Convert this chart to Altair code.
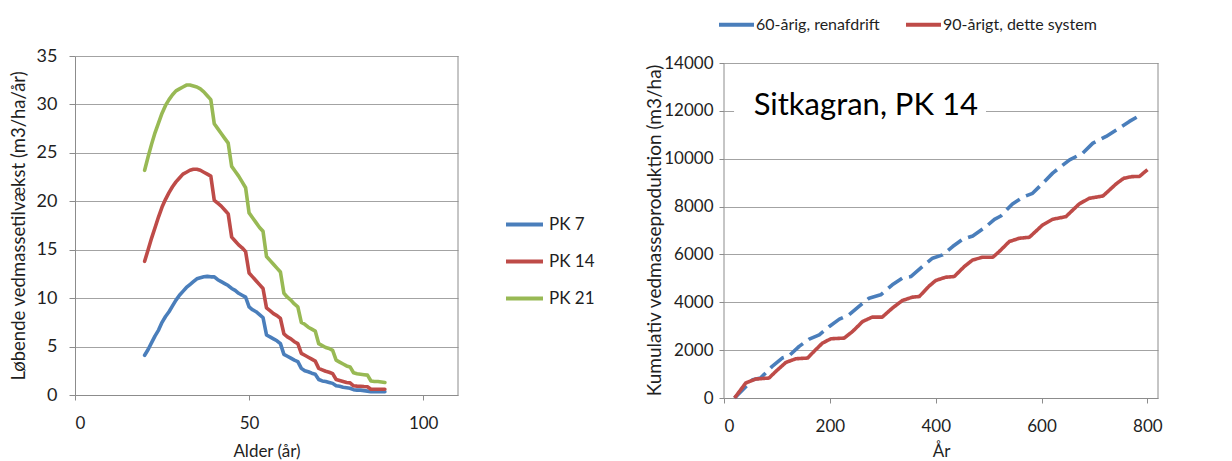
import altair as alt
import pandas as pd

# ---------------------------------------------------------------
# Venstre panel: løbende vedmassetilvækst efter alder (PK 7/14/21)
# ---------------------------------------------------------------
alder = list(range(20, 90))

pk7 = [4.1, 4.7, 5.4, 6.1, 6.7, 7.5, 8.1, 8.6, 9.2, 9.8,
       10.3, 10.7, 11.1, 11.4, 11.7, 12.0, 12.1, 12.2, 12.25, 12.2,
       12.2, 11.9, 11.7, 11.5, 11.3, 11.0, 10.8, 10.5, 10.3, 10.1,
       9.1, 8.8, 8.6, 8.3, 8.0, 6.2, 6.0, 5.8, 5.6, 5.3,
       4.2, 4.0, 3.8, 3.6, 3.45, 2.75, 2.5, 2.4, 2.25, 2.15,
       1.6, 1.45, 1.4, 1.3, 1.2, 0.95, 0.9, 0.8, 0.75, 0.7,
       0.55, 0.5, 0.5, 0.45, 0.4, 0.33, 0.33, 0.33, 0.33, 0.33]

pk14 = [13.8, 15.0, 16.2, 17.3, 18.4, 19.4, 20.2, 20.9, 21.5, 22.0,
        22.4, 22.8, 23.0, 23.2, 23.3, 23.3, 23.2, 23.0, 22.8, 22.6,
        20.1, 19.8, 19.5, 19.1, 18.7, 16.3, 15.9, 15.5, 15.2, 14.8,
        12.6, 12.2, 11.8, 11.4, 11.0, 9.0, 8.7, 8.4, 8.2, 7.9,
        6.3, 6.0, 5.8, 5.5, 5.3, 4.3, 4.1, 3.9, 3.7, 3.5,
        2.75, 2.6, 2.45, 2.35, 2.2, 1.6, 1.5, 1.4, 1.3, 1.25,
        0.95, 0.92, 0.9, 0.87, 0.85, 0.6, 0.6, 0.6, 0.6, 0.6]

pk21 = [23.2, 24.6, 25.9, 27.1, 28.1, 29.1, 29.9, 30.5, 31.0, 31.4,
        31.6, 31.8, 32.0, 32.0, 31.9, 31.8, 31.6, 31.3, 30.9, 30.5,
        28.0, 27.5, 27.0, 26.5, 26.0, 23.6, 23.1, 22.6, 22.0, 21.4,
        18.8, 18.3, 17.8, 17.3, 16.9, 14.3, 13.9, 13.5, 13.1, 12.7,
        10.5, 10.1, 9.8, 9.4, 9.1, 7.5, 7.3, 7.0, 6.8, 6.6,
        5.3, 5.1, 4.9, 4.8, 4.6, 3.6, 3.4, 3.2, 3.0, 2.9,
        2.3, 2.2, 2.15, 2.1, 2.05, 1.45, 1.4, 1.4, 1.35, 1.3]

bonitet_navne = ["PK 7", "PK 14", "PK 21"]
bonitet_farver = ["#4A7EBB", "#BE4B48", "#98B954"]

# ---------------------------------------------------------------
# Højre panel: kumulativ vedmasseproduktion, Sitkagran PK 14
# ---------------------------------------------------------------
aar_60 = [20, 54, 69, 91, 110, 123, 142, 161, 180, 199, 218, 236, 255, 274,
          296, 318, 337, 353, 375, 394, 413, 432, 451, 470, 495, 511, 523,
          545, 564, 583, 602, 621, 653, 678, 697, 722, 747, 766, 788]
prod_60 = [0, 765, 834, 1321, 1669, 1766, 2156, 2462, 2642, 2990, 3296, 3477,
           3825, 4172, 4311, 4729, 5007, 5076, 5494, 5841, 5980, 6328, 6634,
           6773, 7162, 7468, 7607, 8108, 8386, 8553, 8970, 9398, 9955, 10234,
           10652, 10932, 11280, 11559, 11838]

aar_90 = [20, 41, 60, 85, 98, 117, 136, 158, 170, 186, 202, 227, 243, 262,
          280, 299, 318, 337, 356, 369, 388, 400, 419, 435, 454, 470, 489,
          508, 520, 539, 558, 577, 602, 621, 646, 671, 690, 716, 741, 755,
          770, 785, 800]
prod_90 = [0, 626, 793, 834, 1113, 1488, 1641, 1669, 1947, 2295, 2476, 2503,
           2781, 3199, 3380, 3380, 3755, 4075, 4214, 4242, 4687, 4910, 5049,
           5076, 5494, 5772, 5883, 5883, 6119, 6537, 6676, 6718, 7232, 7468,
           7580, 8108, 8345, 8442, 8950, 9180, 9250, 9260, 9540]

forloeb_navne = ["60-årig, renafdrift", "90-årigt, dette system"]
forloeb_farver = ["#4A7EBB", "#BE4B48"]
forloeb_stil = ["stiplet", "fuld"]

TEXT = "#1f1f1f"
GRID = "#a3a3a3"
AXIS = "#8c8c8c"
FONT = "Lato"

# ---- long tables -------------------------------------------------
rows = []
for navn, vals in zip(bonitet_navne, [pk7, pk14, pk21]):
    for a, v in zip(alder, vals):
        rows.append({"alder": a, "tilvaekst": v, "bonitet": navn})
df_left = pd.DataFrame(rows)

rows = []
for navn, stil, xs, ys in [(forloeb_navne[0], forloeb_stil[0], aar_60, prod_60),
                           (forloeb_navne[1], forloeb_stil[1], aar_90, prod_90)]:
    for x, y in zip(xs, ys):
        rows.append({"aar": x, "prod": y, "forloeb": navn, "stil": stil})
df_right = pd.DataFrame(rows)

one = pd.DataFrame({"k": [0]})

# ---- left panel ----------------------------------------------------
L_W, L_H = 383, 339

left_lines = alt.Chart(df_left).mark_line(
    strokeWidth=3.6, strokeJoin="round", strokeCap="round"
).encode(
    x=alt.X("alder:Q",
            scale=alt.Scale(domain=[0, 110], nice=False, zero=False),
            axis=alt.Axis(values=[0, 50, 100], title="Alder (år)", grid=False,
                          tickSize=5, labelPadding=15, labelFontSize=17,
                          titleFontSize=17, titleFontWeight="normal",
                          titleY=56, titleBaseline="middle")),
    y=alt.Y("tilvaekst:Q",
            scale=alt.Scale(domain=[0, 35], nice=False),
            axis=alt.Axis(values=list(range(0, 36, 5)),
                          title="Løbende vedmassetilvækst (m3/ha/år)",
                          grid=True, tickSize=6, labelPadding=12,
                          labelFontSize=18, titleFontSize=18.5,
                          titleFontWeight="normal",
                          titleX=-57, titleY=L_H / 2,
                          titleBaseline="middle", titleAlign="center")),
    color=alt.Color("bonitet:N",
                    scale=alt.Scale(domain=bonitet_navne, range=bonitet_farver),
                    legend=alt.Legend(title=None, orient="none",
                                      direction="vertical",
                                      legendX=429, legendY=148,
                                      symbolType="stroke", symbolSize=1369,
                                      symbolStrokeWidth=4, labelFontSize=17,
                                      labelOffset=4, rowPadding=8, padding=0)),
)

left_border = alt.Chart(one).mark_rule(color=AXIS, strokeWidth=1).encode(
    x=alt.datum(110), y=alt.datum(0), y2=alt.datum(35)
)

left = alt.layer(left_lines, left_border).properties(width=L_W, height=L_H)

# ---- right panel -------------------------------------------------
R_W, R_H = 434, 342
Y_TOP = 14000 * R_H / 335  # room above the 14000 gridline

right_lines = alt.Chart(df_right).mark_line(
    strokeWidth=3.6, strokeJoin="round"
).encode(
    x=alt.X("aar:Q",
            scale=alt.Scale(domain=[0, 820], nice=False),
            axis=alt.Axis(values=[0, 200, 400, 600, 800], title="År",
                          grid=False, tickSize=5, labelPadding=15,
                          labelFontSize=17, titleFontSize=17,
                          titleFontWeight="normal", titleY=53,
                          titleBaseline="middle")),
    y=alt.Y("prod:Q",
            scale=alt.Scale(domain=[0, Y_TOP], nice=False),
            axis=alt.Axis(values=list(range(0, 14001, 2000)), format="d",
                          title="Kumulativ vedmasseproduktion (m3/ha)",
                          grid=True, domain=False, tickSize=5,
                          labelPadding=6, labelFontSize=17,
                          titleFontSize=19, titleFontWeight="normal",
                          titleX=-70, titleY=174,
                          titleBaseline="middle", titleAlign="center")),
    color=alt.Color("forloeb:N",
                    scale=alt.Scale(domain=forloeb_navne, range=forloeb_farver),
                    legend=alt.Legend(title=None, orient="none",
                                      direction="horizontal",
                                      legendX=-7, legendY=-51,
                                      symbolType="stroke", symbolSize=1225,
                                      symbolStrokeWidth=4, labelFontSize=16,
                                      labelOffset=0, columnPadding=18,
                                      labelLimit=400, padding=0)),
    strokeDash=alt.StrokeDash("stil:N",
                              scale=alt.Scale(domain=forloeb_stil,
                                              range=[[17, 7], [1, 0]]),
                              legend=None),
)

right_frame_left = alt.Chart(one).mark_rule(color=AXIS, strokeWidth=1).encode(
    x=alt.datum(0), y=alt.datum(0), y2=alt.datum(14000)
)
right_frame_right = alt.Chart(one).mark_rule(color=AXIS, strokeWidth=1).encode(
    x=alt.datum(820), y=alt.datum(0), y2=alt.datum(14000)
)

title_box = alt.Chart(one).mark_rect(color="white").encode(
    x=alt.datum(19), x2=alt.datum(495),
    y=alt.datum(11500), y2=alt.datum(12500)
)
title_text = alt.Chart(one).mark_text(
    text="Sitkagran, PK 14", align="left", baseline="alphabetic",
    fontSize=31, font=FONT, color="#000000"
).encode(x=alt.datum(56), y=alt.datum(11830))

right = alt.layer(
    right_lines, right_frame_left, right_frame_right, title_box, title_text
).properties(width=R_W, height=R_H)

chart = alt.hconcat(left, right, spacing=266, bounds="flush").resolve_scale(
    color="independent", strokeDash="independent"
).resolve_legend(
    color="independent", strokeDash="independent"
).properties(
    padding={"left": 9, "top": 5, "right": 5, "bottom": 5}
).configure(
    font=FONT
).configure_view(
    strokeWidth=0
).configure_axis(
    labelFont=FONT, titleFont=FONT, labelColor=TEXT, titleColor=TEXT,
    gridColor=GRID, gridWidth=1, domainColor=AXIS, tickColor=AXIS,
    domainWidth=1, tickWidth=1
).configure_legend(
    labelFont=FONT, labelColor=TEXT
)

chart.save("out.html", embed_options={"renderer": "svg", "actions": False})
